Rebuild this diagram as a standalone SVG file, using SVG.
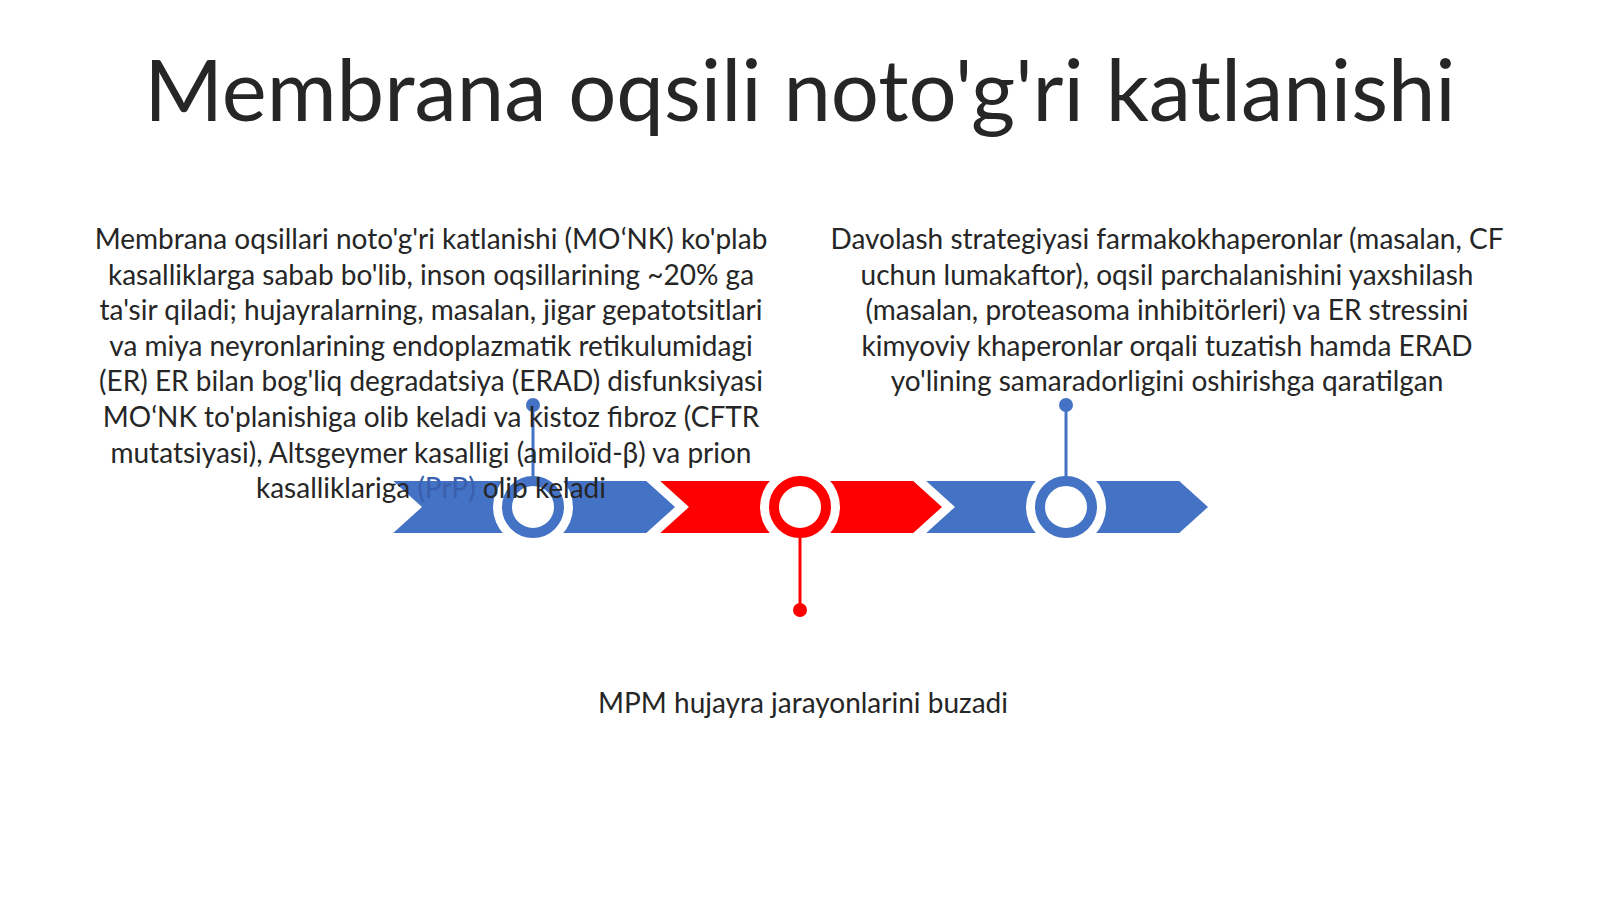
<svg xmlns="http://www.w3.org/2000/svg" width="1600" height="899" viewBox="0 0 1600 899">
<style>
.t{font-family:Lato,"Noto Sans","Liberation Sans",sans-serif;fill:#262626;text-anchor:middle}
.p{font-size:28px}
.blue{fill:#4472C4;stroke:#fff;stroke-width:4;stroke-linejoin:miter}
.red{fill:#FF0000;stroke:#fff;stroke-width:4;stroke-linejoin:miter}
.halo{fill:#fff}
.ringb{fill:#fff;stroke:#4472C4;stroke-width:10}
.ringr{fill:#fff;stroke:#FF0000;stroke-width:10}
</style>
<rect width="1600" height="899" fill="#fff"/>
<text class="t" x="800" y="121" font-size="85">Membrana oqsili noto'g'ri katlanishi</text>
<g id="timeline">
<polygon class="blue" points="388,479 647,479 678,507 647,535 388,535 419,507"/>
<polygon class="red" points="655,479 914,479 945,507 914,535 655,535 686,507"/>
<polygon class="blue" points="921,479 1180,479 1211,507 1180,535 921,535 952,507"/>
</g>
<g id="node1"><circle class="halo" cx="533" cy="507" r="40"/><circle class="ringb" cx="533" cy="507" r="26"/></g>
<g id="node2"><circle class="halo" cx="800" cy="507" r="40"/><circle class="ringr" cx="800" cy="507" r="26"/></g>
<g id="node3"><circle class="halo" cx="1066" cy="507" r="40"/><circle class="ringb" cx="1066" cy="507" r="26"/></g>
<g id="connectors">
<line x1="533" y1="405" x2="533" y2="478" stroke="#4472C4" stroke-width="3"/>
<circle cx="533" cy="405" r="7" fill="#4472C4"/>
<line x1="800" y1="536" x2="800" y2="610" stroke="#FF0000" stroke-width="3"/>
<circle cx="800" cy="610" r="7" fill="#FF0000"/>
<line x1="1066" y1="405" x2="1066" y2="478" stroke="#4472C4" stroke-width="3"/>
<circle cx="1066" cy="405" r="7" fill="#4472C4"/>
</g>
<g id="text-left">
<text class="t p" x="431" y="249">Membrana oqsillari noto'g'ri katlanishi (MOʻNK) ko'plab</text>
<text class="t p" x="431" y="284.6">kasalliklarga sabab bo'lib, inson oqsillarining ~20% ga</text>
<text class="t p" x="431" y="320.2">ta'sir qiladi; hujayralarning, masalan, jigar gepatotsitlari</text>
<text class="t p" x="431" y="355.8">va miya neyronlarining endoplazmatik retikulumidagi</text>
<text class="t p" x="431" y="391.4">(ER) ER bilan bog'liq degradatsiya (ERAD) disfunksiyasi</text>
<text class="t p" x="431" y="427">MOʻNK to'planishiga olib keladi va kistoz fibroz (CFTR</text>
<text class="t p" x="431" y="462.6">mutatsiyasi), Altsgeymer kasalligi (amiloïd-β) va prion</text>
<text class="t p" x="431" y="498.2">kasalliklariga <tspan fill="#3a5fae">(PrP)</tspan> olib keladi</text>
</g>
<g id="text-right">
<text class="t p" x="1167" y="249">Davolash strategiyasi farmakokhaperonlar (masalan, CF</text>
<text class="t p" x="1167" y="284.6">uchun lumakaftor), oqsil parchalanishini yaxshilash</text>
<text class="t p" x="1167" y="320.2">(masalan, proteasoma inhibitörleri) va ER stressini</text>
<text class="t p" x="1167" y="355.8">kimyoviy khaperonlar orqali tuzatish hamda ERAD</text>
<text class="t p" x="1167" y="391.4">yo'lining samaradorligini oshirishga qaratilgan</text>
</g>
<g id="text-bottom">
<text class="t p" x="803" y="713">MPM hujayra jarayonlarini buzadi</text>
</g>
</svg>
